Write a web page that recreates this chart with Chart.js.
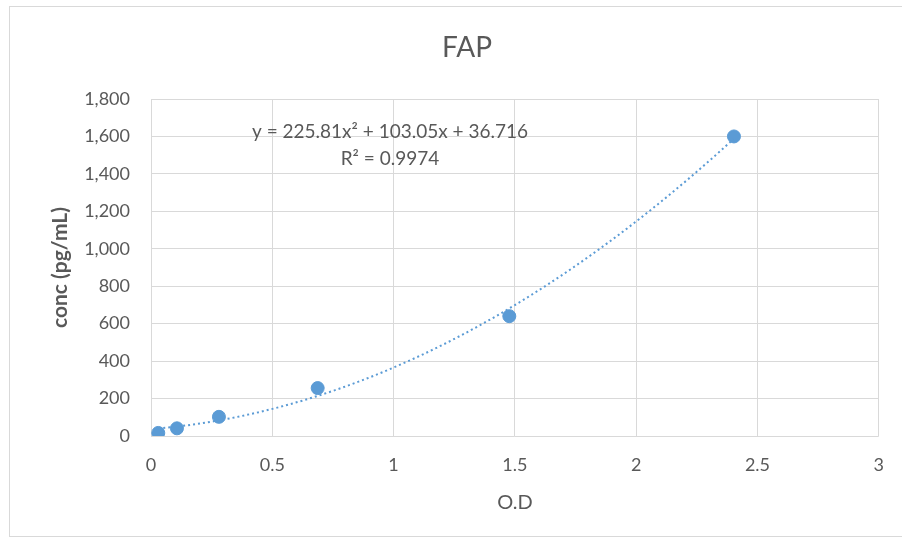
<!DOCTYPE html>
<html>
<head>
<meta charset="utf-8">
<script src="https://cdn.jsdelivr.net/npm/chart.js@4"></script>
<style>
  html, body { margin: 0; padding: 0; background: #fff; }
  #wrap { position: relative; width: 902px; height: 546px; }
  #frame { position: absolute; left: 9px; top: 6px; width: 900px; height: 531px; border: 1px solid #d9d9d9; box-sizing: border-box; pointer-events: none; }
</style>
</head>
<body>
<div id="wrap">
  <div id="frame"></div>
  <canvas id="fapChart" width="902" height="546"></canvas>
</div>
<script>
// standards
const odValues = [0.03, 0.107, 0.28, 0.687, 1.477, 2.403];
const concValues = [16.4, 41, 102.4, 256, 640, 1600];
// Excel polynomial trendline shown on the chart (a, b, c)
const trendCoeffs = [225.81, 103.05, 36.716];
const xTicks = [0, 0.5, 1, 1.5, 2, 2.5, 3];
const yTicks = [0, 200, 400, 600, 800, 1000, 1200, 1400, 1600, 1800];

const textColor = '#595959';
const gridColor = '#d9d9d9';
const blue = '#5b9bd5';

const points = odValues.map((x, i) => ({ x: x, y: concValues[i] }));

const trend = [];
const x0 = odValues[0], x1 = odValues[odValues.length - 1];
for (let i = 0; i <= 60; i++) {
    const x = x0 + (x1 - x0) * i / 60;
    trend.push({ x: x, y: trendCoeffs[0] * x * x + trendCoeffs[1] * x + trendCoeffs[2] });
}

// title and trendline label, placed like in the excel chart
const chartTexts = {
    id: 'chartTexts',
    afterDatasetsDraw(chart) {
        const c = chart.ctx;
        c.save();
        c.fillStyle = textColor;
        c.textAlign = 'center';
        c.textBaseline = 'middle';
        c.font = '28px Lato';
        c.fillText('FAP', 467, 48);
        c.font = '19px Lato';
        c.fillText('y = 225.81x² + 103.05x + 36.716', 390, 132);
        c.fillText('R² = 0.9974', 390, 159);
        c.restore();
    }
};

const ctx = document.getElementById('fapChart').getContext('2d');

const fapChart = new Chart(ctx, {
    type: 'scatter',
    data: {
        datasets: [{
            label: 'trend',
            type: 'line',
            data: trend,
            borderColor: blue,
            borderWidth: 2,
            borderDash: [2, 3],
            pointRadius: 0,
            fill: false,
            tension: 0
        }, {
            label: 'FAP',
            data: points,
            backgroundColor: blue,
            borderColor: blue,
            pointRadius: 6.5,
            pointHoverRadius: 6.5
        }]
    },
    options: {
        responsive: false,
        animation: false,
        layout: { padding: { left: 0, right: 22, top: 99, bottom: 0 } },
        plugins: {
            legend: { display: false },
            tooltip: { enabled: false },
            title: { display: false }
        },
        scales: {
            x: {
                type: 'linear',
                min: 0,
                max: 3,
                afterBuildTicks: (scale) => { scale.ticks = xTicks.map(v => ({ value: v })); },
                afterFit: (scale) => { scale.height = 110; },
                grid: { color: gridColor, drawTicks: false },
                border: { display: false },
                ticks: {
                    color: textColor,
                    font: { family: 'Lato', size: 18 },
                    padding: 18,
                    callback: (v) => String(v)
                },
                title: {
                    display: true,
                    text: 'O.D',
                    color: textColor,
                    font: { family: 'Lato', size: 20 },
                    padding: { top: 0, bottom: 31 }
                }
            },
            y: {
                min: 0,
                max: 1800,
                afterBuildTicks: (scale) => { scale.ticks = yTicks.map(v => ({ value: v })); },
                afterFit: (scale) => { scale.width = 151; },
                grid: { color: gridColor, drawTicks: false },
                border: { display: false },
                ticks: {
                    color: textColor,
                    font: { family: 'Lato', size: 18 },
                    padding: 21,
                    callback: (v) => v.toLocaleString('en-US')
                },
                title: {
                    display: true,
                    text: 'conc (pg/mL)',
                    color: textColor,
                    font: { family: 'Lato', size: 21, weight: 'bold' },
                    padding: { top: 48, bottom: 0 }
                }
            }
        }
    },
    plugins: [chartTexts]
});
</script>
</body>
</html>
